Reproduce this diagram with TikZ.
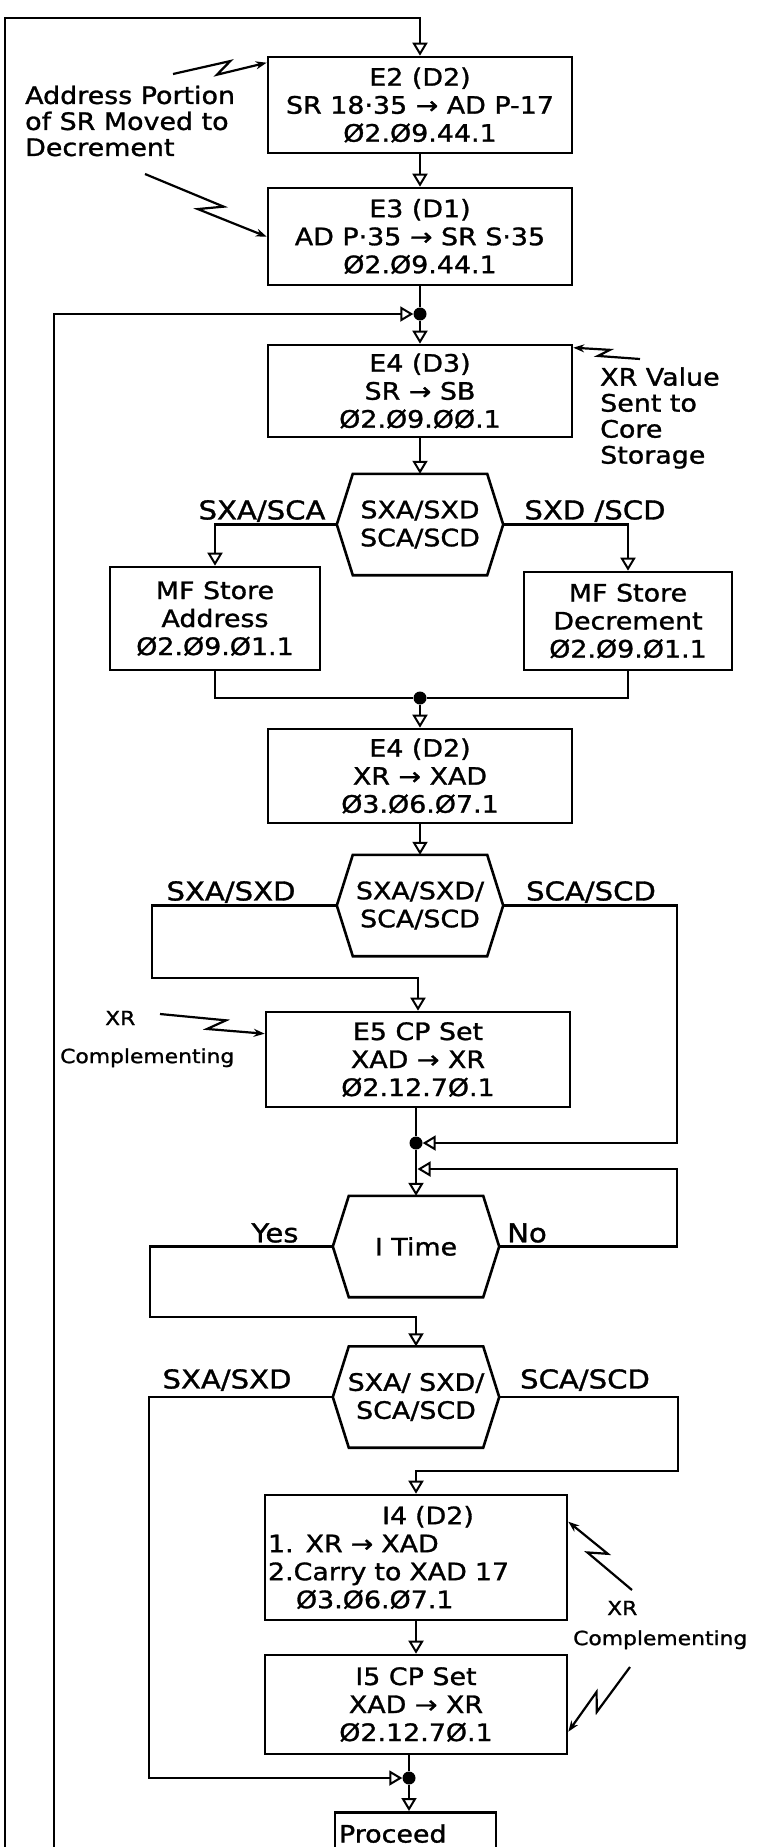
\documentclass[tikz,border=0pt]{standalone}
\usepackage{fontspec}
\setmainfont{DejaVu Sans}[FakeStretch=1.12, FakeBold=1.2]
\usetikzlibrary{arrows.meta,calc}

\newcommand{\hexoutline}[1]{%
  \draw[line width=2.6pt, line join=miter] (#1.west) -- ($(#1.north west)+(16,0)$) -- ($(#1.north east)+(-16,0)$) -- (#1.east) -- ($(#1.south east)+(-16,0)$) -- ($(#1.south west)+(16,0)$) -- cycle;}
\newcommand{\boltarrow}[3]{%
  \draw[zapline] (#1) -- ($(#1)!0.62!(#2)!#3!90:(#2)$) -- ($(#1)!0.46!(#2)!#3!-90:(#2)$) -- (#2);}

\begin{document}
\begin{tikzpicture}[x=1pt,y=-1pt,
  ln/.style={line width=2.5pt, line join=miter},
  flow/.style={ln, -{Triangle[open, length=13pt, width=15pt, line width=2pt]}},
  zapline/.style={line width=2.2pt, line join=miter, -{Stealth[length=11pt, width=8pt]}},
  box/.style={draw, line width=2.6pt, minimum width=304pt, inner sep=3pt, align=center, font=\fontsize{24}{28}\selectfont},
  hexnode/.style={minimum width=166pt, minimum height=101pt, inner sep=0pt, align=center, font=\fontsize{24}{28}\selectfont},
  dot/.style={circle, fill=black, inner sep=0pt, minimum size=13pt},
  lab/.style={inner sep=0pt, font=\fontsize{26}{30}\selectfont},
  note/.style={inner sep=0pt, align=left, font=\fontsize{24}{26}\selectfont},
  smallnote/.style={inner sep=0pt, align=left, font=\fontsize{19.5}{30}\selectfont}
]
\clip (0,0) rectangle (760,1847);
\fill[white] (0,0) rectangle (760,1847);

% ---------- nodes ----------
\node[box, minimum height=96pt] (e2) at (420,105) {E2 (D2)\\SR 18·35 → AD P-17\\Ø2.Ø9.44.1};
\node[box, minimum height=97pt] (e3) at (420,236.5) {E3 (D1)\\AD P·35 → SR S·35\\Ø2.Ø9.44.1};
\node[dot] (d1) at (420,314) {};
\node[box, minimum height=92pt] (e4a) at (420,391) {E4 (D3)\\SR → SB\\Ø2.Ø9.ØØ.1};
\node[hexnode] (h1) at (420,524.5) {SXA/SXD\\SCA/SCD};
\node[box, minimum width=210pt, minimum height=103pt] (mfa) at (215,618.5) {MF Store\\Address\\Ø2.Ø9.Ø1.1};
\node[box, minimum width=208pt, minimum height=98pt] (mfd) at (628,621) {MF Store\\Decrement\\Ø2.Ø9.Ø1.1};
\node[dot] (d2) at (420,698) {};
\node[box, minimum height=94pt] (e4b) at (420,776) {E4 (D2)\\XR → XAD\\Ø3.Ø6.Ø7.1};
\node[hexnode] (h2) at (420,905.5) {SXA/SXD/\\SCA/SCD};
\node[box, minimum height=95pt] (e5) at (418,1059.5) {E5 CP Set\\XAD → XR\\Ø2.12.7Ø.1};
\node[dot] (d3) at (416,1143) {};
\node[hexnode] (h3) at (416,1246.5) {I Time};
\node[hexnode] (h4) at (416,1397) {SXA/ SXD/\\SCA/SCD};
\node[box, minimum width=302pt, minimum height=125pt, align=left, text width=296pt] (i4) at (416,1557.5) {\makebox[296pt]{\hspace*{24pt}I4 (D2)}\\1. XR → XAD\\2.Carry to XAD 17\\\hspace*{28pt}Ø3.Ø6.Ø7.1};
\node[box, minimum width=302pt, minimum height=99pt] (i5) at (416,1704.5) {I5 CP Set\\XAD → XR\\Ø2.12.7Ø.1};
\node[dot] (d4) at (409,1778) {};
\node[box, anchor=north, minimum width=161pt, align=left, text width=153pt, inner xsep=4pt, inner ysep=12pt, text depth=60pt] (pr) at (415.5,1811) {Proceed};

\hexoutline{h1}
\hexoutline{h2}
\hexoutline{h3}
\hexoutline{h4}

% ---------- branch labels ----------
\node[lab] (l1a) at (262,511) {SXA/SCA};
\node[lab] (l1b) at (595,511) {SXD /SCD};
\node[lab] (l2a) at (231,892) {SXA/SXD};
\node[lab] (l2b) at (591,892) {SCA/SCD};
\node[lab] (ly) at (275,1233) {Yes};
\node[lab] (lno) at (527,1233) {No};
\node[lab] (l4a) at (227,1380) {SXA/SXD};
\node[lab] (l4b) at (585,1380) {SCA/SCD};

% ---------- connectors ----------
\coordinate (la) at (5,1847);
\coordinate (ta) at (420,18);
\draw[flow] (la) |- (ta) -- (e2.north);
\draw[flow] (e2) -- (e3);
\draw[ln] (e3) -- (d1);
\draw[flow] (d1) -- (e4a);
\coordinate (lb) at (54,1847);
\draw[flow] (lb) |- (d1.west);
\draw[flow] (e4a) -- (h1);
\draw[flow] (h1.west) -| (mfa.north);
\draw[flow] (h1.east) -| (mfd.north);
\draw[ln] (mfa.south) |- (d2);
\draw[ln] (mfd.south) |- (d2);
\draw[flow] (d2) -- (e4b);
\draw[flow] (e4b) -- (h2);
\coordinate (b2l) at (152,978);
\draw[flow] (h2.west) -| (b2l) -- (b2l -| e5.north) -- (e5.north);
\coordinate (b2r) at (677,1143);
\draw[flow] (h2.east) -| (b2r) -- (d3.east);
\draw[ln] (e5.south -| d3) -- (d3);
\draw[flow] (d3) -- (h3);
\coordinate (nr) at (677,1169);
\coordinate (ni) at (417.5,1169);
\draw[flow] (h3.east) -| (nr) -- (ni);
\coordinate (yl) at (150,1317);
\draw[flow] (h3.west) -| (yl) -- (yl -| h4.north) -- (h4.north);
\coordinate (b4r) at (678,1471);
\draw[flow] (h4.east) -| (b4r) -- (b4r -| i4.north) -- (i4.north);
\coordinate (b4l) at (149,1778);
\draw[flow] (h4.west) -| (b4l) -- (d4.west);
\draw[flow] (i4) -- (i5);
\draw[ln] (i5.south -| d4) -- (d4);
\draw[flow] (d4) -- (d4 |- pr.north);

% ---------- annotations ----------
\node[note, anchor=west] (t1) at (25,121) {Address Portion\\of SR Moved to\\Decrement};
\node[note, anchor=west] (t2) at (600,418) {XR Value\\Sent to\\Core\\Storage};
\node[smallnote, anchor=west] (t3) at (60,1039) {\hspace*{45pt}XR\\[8pt]Complementing};
\node[smallnote, anchor=west] (t4) at (573,1625) {\hspace*{34pt}XR\\Complementing};

\coordinate (z1s) at (173,74);
\coordinate (z1e) at ([yshift=-7pt]e2.north west);
\coordinate (z2s) at (145,174);
\coordinate (z2e) at ([yshift=-50pt]e3.north west);
\coordinate (z3s) at (640,359);
\coordinate (z3e) at ([yshift=-4pt]e4a.north east);
\coordinate (z4s) at (160,1014);
\coordinate (z4e) at ([yshift=-23pt]e5.north west);
\coordinate (z5s) at (632,1590);
\coordinate (z5e) at ([yshift=-28pt]i4.north east);
\coordinate (z6s) at (630,1667);
\coordinate (z6e) at ([yshift=-78pt]i5.north east);
\boltarrow{z1s}{z1e}{6pt}
\boltarrow{z2s}{z2e}{7pt}
\boltarrow{z3s}{z3e}{4pt}
\boltarrow{z4s}{z4e}{6pt}
\boltarrow{z5s}{z5e}{7pt}
\boltarrow{z6s}{z6e}{7pt}
\end{tikzpicture}
\end{document}
